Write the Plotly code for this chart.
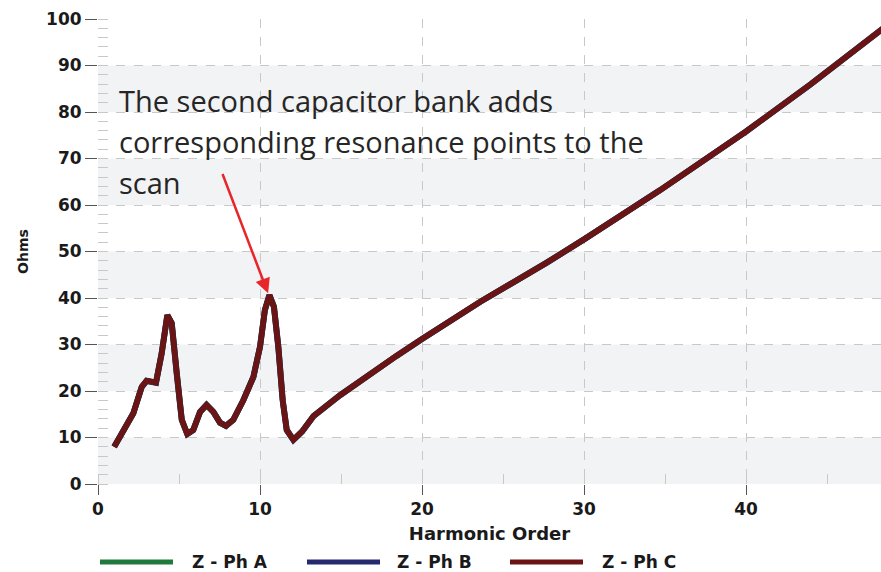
import plotly.graph_objects as go

# ---- data ----
harmonic = [1.0, 1.5, 2.18, 2.7, 3.0, 3.58, 3.93, 4.28, 4.55, 4.86, 5.17, 5.51, 5.88,
            6.3, 6.7, 7.12, 7.53, 7.9, 8.35, 8.97, 9.59, 10.0, 10.3, 10.58, 10.86,
            11.13, 11.4, 11.65, 12.06, 12.6, 13.3, 14.94, 16.6, 18.4, 20.0, 21.9,
            23.6, 27.7, 30.0, 34.7, 40.0, 44.0, 48.5]
ohms = [8.0, 11.0, 15.2, 20.9, 22.2, 21.8, 28.1, 36.3, 34.6, 23.8, 13.8, 10.75, 11.6,
        15.5, 17.0, 15.5, 13.2, 12.5, 13.8, 18.0, 23.0, 29.5, 37.4, 40.6, 38.1,
        29.5, 18.0, 11.6, 9.5, 11.3, 14.6, 19.1, 23.2, 27.5, 31.2, 35.4,
        39.2, 47.6, 52.6, 63.2, 75.8, 86.0, 98.1]

series_names = ["Z - Ph A", "Z - Ph B", "Z - Ph C"]
series_colors = ["#1f7a3c", "#25296e", "#6b1414"]

x_ticks = [0, 10, 20, 30, 40]
y_ticks = [0, 10, 20, 30, 40, 50, 60, 70, 80, 90, 100]

note_lines = ["The second capacitor bank adds",
              "corresponding resonance points to the",
              "scan"]
arrow_tail = (7.65, 67.0)
arrow_head = (10.5, 41.0)

X_MAX = 48.33
AX_FONT = dict(family="DejaVu Sans", size=17, color="#1a1a1a")

fig = go.Figure()
widths = [6, 6, 5.5]
for name, col, w in zip(series_names, series_colors, widths):
    fig.add_trace(go.Scatter(x=harmonic, y=ohms, mode="lines", name=name,
                             line=dict(color=col, width=w),
                             showlegend=False, hoverinfo="skip"))

# alternating background bands
shapes = []
for lo in range(0, 100, 20):
    shapes.append(dict(type="rect", xref="paper", yref="y", x0=0, x1=1, y0=lo, y1=lo + 10,
                       fillcolor="#f2f3f4", line=dict(width=0), layer="below"))

W, PL, PW = 881, 98, 783
H, PT, PH = 572, 19, 465
def px_x(p):
    return (p - PL) / PW
def px_y(p):
    return (PT + PH - p) / PH

# manual legend (long line swatches)
leg_y = 562
leg_items = [(100, 173, 190), (307, 380, 395), (510, 583, 600)]
annotations = []
for (x0, x1, tx), name, col in zip(leg_items, series_names, series_colors):
    shapes.append(dict(type="line", xref="paper", yref="paper",
                       x0=px_x(x0), x1=px_x(x1), y0=px_y(leg_y), y1=px_y(leg_y),
                       line=dict(color=col, width=5)))
    annotations.append(dict(xref="paper", yref="paper", x=px_x(tx), y=px_y(leg_y),
                            text="<b>%s</b>" % name, showarrow=False, xanchor="left",
                            yanchor="middle", font=AX_FONT))

# note text
for i, line in enumerate(note_lines):
    annotations.append(dict(xref="paper", yref="paper", x=px_x(117), y=px_y(100 + 41 * i),
                            text=line, showarrow=False, xanchor="left", yanchor="middle",
                            font=dict(family="Open Sans", size=29, color="#262626")))

# arrow
annotations.append(dict(x=arrow_head[0], y=arrow_head[1], ax=arrow_tail[0], ay=arrow_tail[1],
                        xref="x", yref="y", axref="x", ayref="y", text="",
                        showarrow=True, arrowhead=2, arrowsize=1.2, arrowwidth=2.5,
                        arrowcolor="#e8262a"))

fig.update_layout(
    width=W, height=H,
    margin=dict(l=PL, r=W - PL - PW, t=PT, b=H - PT - PH),
    paper_bgcolor="white", plot_bgcolor="white",
    shapes=shapes, annotations=annotations, showlegend=False,
    xaxis=dict(range=[0, X_MAX], tickvals=x_ticks, ticktext=["<b>%d</b>" % v for v in x_ticks],
               ticks="outside", ticklen=10, tickcolor="#555555", tickwidth=1,
               showgrid=True, gridcolor="#c8c8c8", griddash="dash", gridwidth=1,
               zeroline=False, showline=False, tickfont=AX_FONT,
               minor=dict(dtick=5, tick0=0, ticks="inside", ticklen=10, tickcolor="#c8c8c8",
                          showgrid=False),
               title=dict(text="<b>Harmonic Order</b>",
                          font=dict(family="DejaVu Sans", size=18, color="#1a1a1a"),
                          standoff=8)),
    yaxis=dict(range=[0, 100], tickvals=y_ticks, ticktext=["<b>%d</b>" % v for v in y_ticks],
               ticks="outside", ticklen=12, tickcolor="#555555", tickwidth=1,
               showgrid=True, gridcolor="#c8c8c8", griddash="dash", gridwidth=1,
               zeroline=False, showline=False, tickfont=AX_FONT,
               minor=dict(dtick=2, tick0=0, ticks="inside", ticklen=10, tickcolor="#c8c8c8",
                          showgrid=False),
               title=dict(text="<b>Ohms</b>", font=dict(family="DejaVu Sans", size=14,
                                                         color="#1a1a1a"), standoff=14)),
)

fig.write_html("out.html", config={"displayModeBar": False},
               post_script="document.body.style.margin='0px';")
